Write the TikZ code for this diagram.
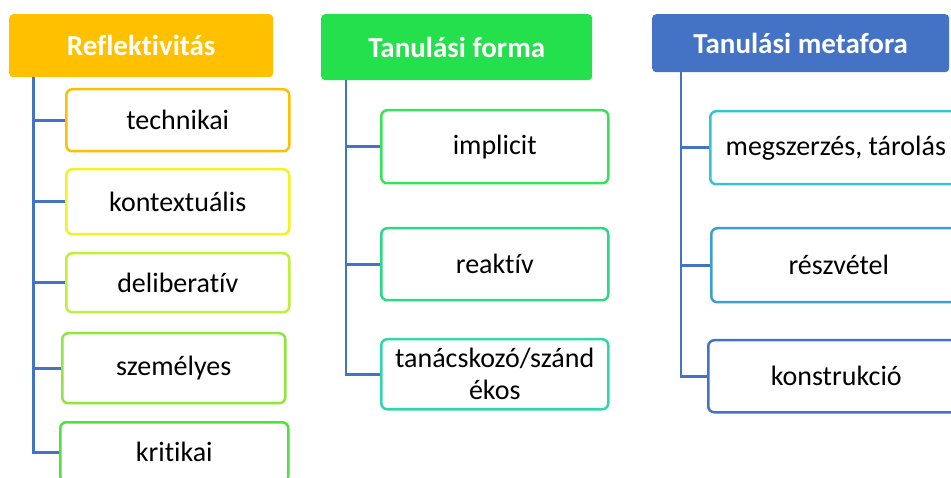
\documentclass[tikz,border=0pt]{standalone}
\usepackage{fontspec}
\setmainfont{Carlito}[Ligatures=NoCommon]
\definecolor{headA}{HTML}{FFC000}
\definecolor{headB}{HTML}{24E04C}
\definecolor{headC}{HTML}{4472C4}
\definecolor{linkblue}{HTML}{4472C4}
\definecolor{rA}{HTML}{FFBF00}
\definecolor{rB}{HTML}{F2F21E}
\definecolor{rC}{HTML}{BEF03A}
\definecolor{rD}{HTML}{8FE63C}
\definecolor{rE}{HTML}{52E03E}
\definecolor{fA}{HTML}{3ADF5C}
\definecolor{fB}{HTML}{2AD886}
\definecolor{fC}{HTML}{33D4AE}
\definecolor{mA}{HTML}{33C4D0}
\definecolor{mB}{HTML}{3B9FD4}
\definecolor{mC}{HTML}{4472C4}
\begin{document}
\begin{tikzpicture}[x=1pt,y=-1pt,
  head/.style={rectangle, rounded corners=4pt, inner sep=0pt, anchor=north west,
    text=white, font=\fontsize{29}{34}\selectfont\bfseries},
  item/.style={rectangle, rounded corners=6pt, draw=#1, line width=2.5pt, fill=white,
    anchor=north west, inner sep=0pt, text=black, align=center,
    font=\fontsize{28}{32}\selectfont},
  conn/.style={draw=linkblue, line width=2.8pt}]
\useasboundingbox (0,0) rectangle (951,478);
\clip (0,0) rectangle (951,478);

% --- Reflektivitás column ---
\node[head, fill=headA, minimum width=264pt, minimum height=63pt] (h1) at (9,14) {Reflektivitás};
\coordinate (t1) at ([xshift=24.5pt]h1.south west);
\node[item=rA, minimum width=223pt, minimum height=62pt] (b1) at (65,88) {technikai};
\node[item=rB, minimum width=223pt, minimum height=65pt] (b2) at (65,168) {kontextuális};
\node[item=rC, minimum width=223pt, minimum height=59pt] (b3) at (65,252) {deliberatív};
\node[item=rD, minimum width=223pt, minimum height=70pt] (b4) at (61,332) {személyes};
\node[item=rE, minimum width=228pt, minimum height=60pt] (b5) at (59,421) {kritikai};

% --- Tanulási forma column ---
\node[head, fill=headB, minimum width=271pt, minimum height=66pt] (h2) at (321,14) {Tanulási forma};
\coordinate (t2) at ([xshift=25pt]h2.south west);
\node[item=fA, minimum width=227pt, minimum height=73pt] (c1) at (380,109) {implicit};
\node[item=fB, minimum width=227pt, minimum height=72pt] (c2) at (380,227) {reaktív};
\node[item=fC, minimum width=227pt, minimum height=70pt] (c3) at (380,338) {tanácskozó/szánd\\ékos};

% --- Tanulási metafora column ---
\node[head, fill=headC, minimum width=297pt, minimum height=58pt] (h3) at (652,14) {Tanulási metafora};
\coordinate (t3) at ([xshift=29pt]h3.south west);
\node[item=mA, minimum width=251pt, minimum height=73pt] (d1) at (709,110) {megszerzés, tárolás};
\node[item=mB, minimum width=255pt, minimum height=74pt] (d2) at (710,227) {részvétel};
\node[item=mC, minimum width=256pt, minimum height=72pt] (d3) at (707,339) {konstrukció};

% --- connectors: trunk from each header, branches to the boxes ---
\draw[conn] (t1) |- (b5.west);
\foreach \b in {b1,b2,b3,b4} \draw[conn] (\b.west -| t1) -- (\b.west);
\draw[conn] (t2) |- (c3.west);
\foreach \b in {c1,c2} \draw[conn] (\b.west -| t2) -- (\b.west);
\draw[conn] (t3) |- (d3.west);
\foreach \b in {d1,d2} \draw[conn] (\b.west -| t3) -- (\b.west);
\end{tikzpicture}
\end{document}
